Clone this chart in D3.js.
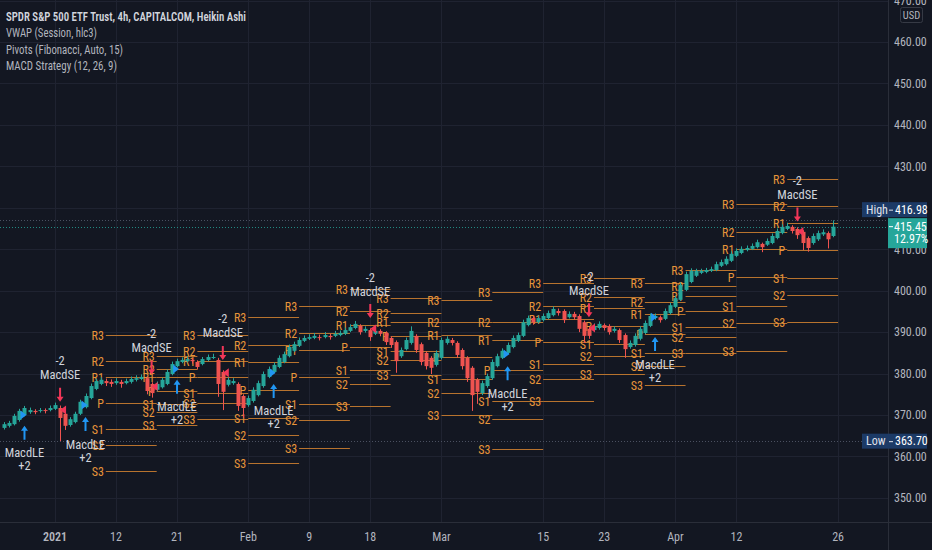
<!DOCTYPE html>
<html><head><meta charset="utf-8">
<script src="https://cdn.jsdelivr.net/npm/d3@7/dist/d3.min.js"></script>
<style>
html,body{margin:0;padding:0;background:#131722;overflow:hidden;}
svg{display:block;}
</style></head><body>
<svg id="chart" width="932" height="550"></svg>
<script>
// ---------- DATA ----------
const haOpen = [366.9,367.4,367.8,368.8,370.0,370.7,371.0,371.0,371.2,371.2,371.5,371.7,370.3,367.6,368.3,370.3,371.9,374.1,376.3,377.5,
378.2,378.0,377.7,378.0,377.7,378.0,378.5,378.7,378.9,377.5,376.1,376.7,377.5,379.9,381.8,382.8,383.0,383.3,382.8,382.3,
383.3,383.8,383.3,380.4,377.3,377.7,377.5,374.6,372.4,373.4,374.8,377.0,379.2,380.4,381.6,382.8,384.2,385.5,386.7,387.9,
388.4,388.6,388.8,388.8,389.1,389.1,389.3,389.6,390.3,391.0,391.5,390.3,390.5,389.6,390.3,389.8,388.6,387.6,384.2,385.9,
387.4,389.1,387.1,385.0,383.8,382.1,383.8,387.4,388.1,387.4,385.7,383.8,381.4,378.5,375.3,377.0,378.9,381.8,383.8,385.0,
386.4,387.9,389.1,391.7,393.4,392.4,392.9,393.4,394.1,395.1,395.1,393.6,394.4,393.9,392.4,390.8,390.5,391.0,391.7,391.5,
390.3,390.5,389.3,386.4,386.9,388.4,389.8,391.5,393.4,393.6,393.2,394.6,396.1,397.8,400.2,402.1,403.6,404.3,404.5,404.8,
405.0,406.0,406.4,407.2,408.4,409.1,409.8,410.1,410.5,411.3,411.1,411.5,412.7,413.9,414.9,415.4,414.9,414.2,412.7,411.5,
412.4,413.6,413.9,413.2];
const haClose = [367.8,368.1,369.8,371.0,371.7,371.2,370.7,371.2,371.0,371.7,372.4,369.3,367.4,369.0,370.3,373.2,374.6,377.0,378.2,378.5,
377.7,377.5,378.2,377.5,378.2,378.7,378.9,379.2,375.8,375.3,377.5,378.5,380.4,382.3,383.0,383.3,383.5,383.0,381.6,383.5,
384.0,384.0,377.5,375.6,378.5,378.2,372.2,371.7,374.1,376.1,377.7,379.9,381.1,382.1,383.8,384.7,386.4,387.1,388.1,388.6,
388.8,389.1,388.6,389.3,388.8,389.6,389.8,390.5,391.2,392.0,390.0,390.8,388.8,390.3,389.6,387.6,386.9,383.0,385.7,388.1,
390.3,385.7,382.8,381.8,381.4,385.0,388.1,388.4,387.4,384.5,381.8,378.9,374.8,375.6,377.7,379.4,382.8,384.2,385.5,386.9,
388.6,389.3,392.4,393.4,392.4,393.4,393.9,394.6,395.6,394.6,392.9,394.4,393.6,390.8,389.1,389.1,391.5,392.0,391.0,390.0,
390.8,388.1,385.9,387.4,389.1,390.8,392.2,393.9,393.9,392.9,395.1,396.5,398.2,401.4,404.0,404.8,404.8,404.8,405.0,405.2,
406.4,406.9,407.7,408.9,409.6,410.1,410.3,410.8,411.7,410.5,412.0,413.2,414.4,415.4,415.6,414.4,413.4,411.5,410.3,413.2,
413.9,414.1,412.4,415.45];
const haHigh = [368.3,368.6,370.3,371.5,372.2,371.8,371.4,371.7,371.6,372.3,373.0,372.3,370.6,369.5,370.8,373.7,375.2,377.6,378.8,379.1,
378.8,378.6,378.9,378.5,378.8,379.3,379.6,379.8,379.3,377.9,378.1,379.0,381.0,382.9,383.6,383.9,384.1,383.7,383.2,384.0,
384.6,384.8,383.8,380.8,379.1,378.9,377.9,375.0,374.7,376.7,378.3,380.5,381.7,382.7,384.4,385.3,387.0,387.7,388.7,389.2,
389.5,389.8,389.4,390.0,389.6,390.3,390.4,391.1,391.9,392.7,391.9,391.4,390.9,390.9,390.7,390.2,389.0,388.0,386.3,388.7,
391.4,389.5,387.5,385.4,384.2,385.6,388.7,389.0,388.6,387.8,386.1,384.2,381.8,378.9,378.3,380.0,383.4,384.8,386.1,387.5,
389.2,389.9,393.0,394.0,393.9,394.0,394.5,395.2,396.2,395.7,395.5,395.0,394.9,394.3,392.8,391.2,392.1,392.6,392.1,391.9,
391.4,390.9,389.7,388.0,389.7,391.4,392.8,394.5,394.5,394.0,395.7,397.1,398.8,402.0,404.6,405.4,405.3,405.3,405.5,405.8,
407.0,407.5,408.3,409.5,410.2,410.7,410.9,411.4,412.3,411.6,412.6,413.8,415.0,416.0,416.4,415.8,415.3,414.6,413.1,413.8,
414.5,414.8,414.3,416.98];
const haLow = [366.5,367.0,367.5,368.4,369.7,370.3,370.2,370.6,370.4,370.9,371.2,363.7,366.4,367.2,368.0,370.0,371.6,373.8,376.0,377.2,
377.0,376.8,377.3,376.6,377.4,377.6,378.1,378.4,375.0,374.2,375.7,376.4,377.2,379.6,381.5,382.5,382.7,382.4,381.0,382.0,
383.0,383.5,374.4,371.2,376.9,377.3,371.0,369.3,372.0,373.0,374.5,376.6,378.9,380.1,381.3,382.5,383.9,385.2,386.4,387.6,
388.1,388.3,388.0,388.5,388.2,388.8,389.0,389.3,390.0,390.7,389.4,389.9,387.9,389.3,389.0,386.9,386.2,380.2,383.8,385.6,
387.0,385.0,382.0,381.0,379.9,381.7,383.4,387.0,386.8,383.8,381.0,378.0,371.0,372.7,374.8,376.6,378.5,381.5,383.5,384.7,
386.1,387.6,388.8,391.4,391.8,392.1,392.6,393.1,393.8,394.0,392.2,393.3,393.0,390.0,387.4,388.4,390.1,390.6,390.4,389.4,
389.9,387.4,383.8,386.0,386.5,388.0,389.5,391.2,393.0,392.3,392.9,394.3,395.8,397.5,399.9,401.8,403.3,404.0,404.2,404.5,
404.7,405.7,406.1,406.9,408.1,408.8,409.5,409.8,410.2,409.3,410.8,411.2,412.4,413.6,414.6,413.8,412.5,409.8,409.4,411.1,
412.0,413.2,410.2,412.9];

const timeTickLabels = ["2021","12","21","Feb","9","18","Mar","15","23","Apr","12","26"];
const timeTickBars   = [10,22,34,48,60,72,86,106,118,132,144,164];
const priceTicks = [350,360,370,380,390,400,410,420,430,440,450,460,470];

// weekly Fibonacci pivots
const weekStartBar = [20,30,38,48,58,68,76,86,96,106,116,126,134,144,154];
const weekEndBar   = [30,38,48,58,68,76,86,96,106,116,126,134,144,154,164];
const pivotR3 = [389.3,384.2,389.3,393.6,396.3,400.4,398.2,397.8,399.7,401.9,403.1,401.9,405.0,420.9,427.0];
const pivotR2 = [383.1,381.0,385.5,386.9,389.7,395.0,394.7,392.5,392.5,396.4,398.6,397.2,401.2,414.1,420.4];
const pivotR1 = [379.2,379.1,383.1,382.7,385.7,391.7,392.5,389.2,388.0,393.1,395.9,394.3,398.8,410.0,416.3];
const pivotP  = [372.9,375.9,379.2,376.0,379.2,386.3,389.0,383.9,380.8,387.6,391.5,389.6,395.0,403.2,409.7];
const pivotS1 = [366.6,372.7,375.3,369.3,372.7,380.9,385.4,378.6,373.5,382.2,387.1,384.9,391.2,396.4,403.1];
const pivotS2 = [362.8,370.8,372.9,365.1,368.7,377.6,383.2,375.3,369.0,378.8,384.3,381.9,388.8,392.2,399.0];
const pivotS3 = [356.5,367.6,369.1,358.4,362.1,372.2,379.7,370.0,361.8,373.4,379.9,377.3,385.0,385.5,392.5];
const pivotNames = ["R3","R2","R1","P","S1","S2","S3"];

// MACD strategy signals
const longBars = [4,16,34,53,99,128];
const longArrowPrice = [367.4,369.5,378.5,377.5,381.8,388.8];
const longMarkPrice  = [370.0,372.4,381.1,380.2,384.7,393.6];
const shortBars = [11,29,43,72,115,156];
const shortArrowPrice = [373.2,379.8,383.3,393.4,393.6,416.7];
const shortMarkPrice  = [371.2,376.9,380.2,390.8,391.0,414.3];

const legendLines = ["SPDR S&P 500 ETF Trust, 4h, CAPITALCOM, Heikin Ashi","VWAP (Session, hlc3)","Pivots (Fibonacci, Auto, 15)","MACD Strategy (12, 26, 9)"];
const legendWidths = [240, 91, 117, 111];
const lastPrice = 415.45, lastChange = "12.97%", highPrice = 416.98, lowPrice = 363.70;

// ---------- DRAW ----------
const W = 932, H = 550, plotR = 888, plotB = 522;
const FONT = "'Liberation Sans Narrow','Arial Narrow','Roboto Condensed','Liberation Sans',sans-serif";
const svg = d3.select("#chart");
svg.append("rect").attr("width",W).attr("height",H).attr("fill","#131722");

const x = d3.scaleLinear().domain([10,164]).range([55,838.1]);
const y = d3.scaleLinear().domain([350,460]).range([497.95,42]);

const defs = svg.append("defs");
defs.append("clipPath").attr("id","plotclip").append("rect").attr("x",0).attr("y",0).attr("width",plotR).attr("height",plotB);

const plot = svg.append("g").attr("clip-path","url(#plotclip)");

// grid
plot.append("g").selectAll("line").data(priceTicks).join("line")
  .attr("x1",0).attr("x2",plotR).attr("y1",d=>Math.round(y(d))+0.5).attr("y2",d=>Math.round(y(d))+0.5)
  .attr("stroke","#1f2331").attr("stroke-width",1);
plot.append("g").selectAll("line").data(timeTickBars).join("line")
  .attr("y1",0).attr("y2",plotB).attr("x1",d=>Math.round(x(d))+0.5).attr("x2",d=>Math.round(x(d))+0.5)
  .attr("stroke","#1f2331").attr("stroke-width",1);

// high / low / last dotted lines
[[highPrice,"#4a5060"],[lowPrice,"#4a5060"]].forEach(([p,c])=>{
  plot.append("line").attr("x1",0).attr("x2",plotR).attr("y1",Math.round(y(p))+0.5).attr("y2",Math.round(y(p))+0.5)
    .attr("stroke",c).attr("stroke-dasharray","1,2");
});
plot.append("line").attr("x1",0).attr("x2",plotR).attr("y1",Math.round(y(lastPrice))+0.5).attr("y2",Math.round(y(lastPrice))+0.5)
  .attr("stroke","#26a69a").attr("stroke-opacity",0.8).attr("stroke-dasharray","1,2");

// pivots
const pivotArrays = [pivotR3,pivotR2,pivotR1,pivotP,pivotS1,pivotS2,pivotS3];
const pivG = plot.append("g");
weekStartBar.forEach((sb,w)=>{
  pivotArrays.forEach((arr,k)=>{
    const yy = Math.round(y(arr[w]))+0.5;
    pivG.append("line").attr("x1",x(sb)).attr("x2",x(weekEndBar[w])).attr("y1",yy).attr("y2",yy)
      .attr("stroke","#b8732e").attr("stroke-width",1);
    pivG.append("text").attr("x",x(sb)-2).attr("y",yy).attr("text-anchor","end").attr("dominant-baseline","central")
      .attr("font-family",FONT).attr("font-size",12).attr("fill","#e8953a").text(pivotNames[k]);
  });
});

// candles
const bars = d3.range(haOpen.length);
const cg = plot.append("g");
bars.forEach(i=>{
  const up = haClose[i] >= haOpen[i];
  const col = up ? "#26a69a" : "#ef5350";
  const cx = Math.round(x(i)) + 0.5;
  cg.append("line").attr("x1",cx).attr("x2",cx).attr("y1",y(haHigh[i])).attr("y2",y(haLow[i])).attr("stroke",col).attr("stroke-width",1);
  const top = y(Math.max(haOpen[i],haClose[i])), bot = y(Math.min(haOpen[i],haClose[i]));
  cg.append("rect").attr("x",cx-2).attr("width",4).attr("y",top).attr("height",Math.max(1,bot-top)).attr("fill",col);
});

// signal markers
const sg = plot.append("g");
const BLUE = "#2196f3", RED = "#f23658";
longBars.forEach((b,k)=>{
  const cx = x(b), ty = y(longArrowPrice[k]), my = y(longMarkPrice[k]);
  sg.append("path").attr("d",`M${cx-4},${my-4.5}L${cx+2},${my}L${cx-4},${my+4.5}Z`).attr("fill",BLUE);
  sg.append("path").attr("d",`M${cx},${ty}L${cx+3.5},${ty+5}L${cx+1},${ty+5}L${cx+1},${ty+14}L${cx-1},${ty+14}L${cx-1},${ty+5}L${cx-3.5},${ty+5}Z`).attr("fill",BLUE);
  sg.append("text").attr("x",cx).attr("y",ty+27).attr("text-anchor","middle").attr("dominant-baseline","central")
    .attr("font-family",FONT).attr("font-size",12.5).attr("fill","#d1d4dc").text("MacdLE");
  sg.append("text").attr("x",cx).attr("y",ty+40).attr("text-anchor","middle").attr("dominant-baseline","central")
    .attr("font-family",FONT).attr("font-size",12.5).attr("fill","#d1d4dc").text("+2");
});
shortBars.forEach((b,k)=>{
  const cx = x(b), ty = y(shortArrowPrice[k]), my = y(shortMarkPrice[k]);
  sg.append("path").attr("d",`M${cx+6},${my-4.5}L${cx},${my}L${cx+6},${my+4.5}Z`).attr("fill",RED);
  sg.append("path").attr("d",`M${cx},${ty}L${cx+3.5},${ty-5}L${cx+1},${ty-5}L${cx+1},${ty-14}L${cx-1},${ty-14}L${cx-1},${ty-5}L${cx-3.5},${ty-5}Z`).attr("fill",RED);
  sg.append("text").attr("x",cx).attr("y",ty-27).attr("text-anchor","middle").attr("dominant-baseline","central")
    .attr("font-family",FONT).attr("font-size",12.5).attr("fill","#d1d4dc").text("MacdSE");
  sg.append("text").attr("x",cx).attr("y",ty-41).attr("text-anchor","middle").attr("dominant-baseline","central")
    .attr("font-family",FONT).attr("font-size",12.5).attr("fill","#d1d4dc").text("-2");
});

// axes separators
svg.append("line").attr("x1",plotR+0.5).attr("x2",plotR+0.5).attr("y1",0).attr("y2",H).attr("stroke","#2a2e39");
svg.append("line").attr("x1",0).attr("x2",W).attr("y1",plotB+0.5).attr("y2",plotB+0.5).attr("stroke","#2a2e39");

// right price axis
const yAxis = d3.axisRight(y).tickValues(priceTicks).tickFormat(d3.format(".2f")).tickSize(0).tickPadding(6);
const ya = svg.append("g").attr("transform",`translate(${plotR},0)`).call(yAxis);
ya.select(".domain").remove();
ya.selectAll("text").attr("font-family",FONT).attr("font-size",12).attr("fill","#b2b5be");

// bottom time axis
const tg = svg.append("g");
timeTickBars.forEach((b,i)=>{
  tg.append("text").attr("x",x(b)).attr("y",537).attr("text-anchor","middle").attr("dominant-baseline","central")
    .attr("font-family",FONT).attr("font-size",12).attr("fill","#b2b5be")
    .attr("font-weight", timeTickLabels[i]==="2021" ? 600 : 400).text(timeTickLabels[i]);
});

// USD box
svg.append("rect").attr("x",900.5).attr("y",7.5).attr("width",22).attr("height",15).attr("rx",2)
  .attr("fill","#131722").attr("stroke","#363a45");
svg.append("text").attr("x",911.5).attr("y",15).attr("text-anchor","middle").attr("dominant-baseline","central")
  .attr("font-family",FONT).attr("font-size",10.5).attr("fill","#b2b5be").text("USD");

// last price box
const lpY = y(lastPrice);
svg.append("rect").attr("x",888).attr("y",lpY-8.5).attr("width",39).attr("height",30).attr("fill","#26a69a");
svg.append("line").attr("x1",889).attr("x2",893).attr("y1",lpY).attr("y2",lpY).attr("stroke","#fff");
svg.append("text").attr("x",894).attr("y",lpY).attr("dominant-baseline","central").attr("font-family",FONT)
  .attr("font-size",12).attr("fill","#ffffff").text(d3.format(".2f")(lastPrice));
svg.append("text").attr("x",894).attr("y",lpY+12).attr("dominant-baseline","central").attr("font-family",FONT)
  .attr("font-size",12).attr("fill","#ffffff").text(lastChange);

// high / low labels
function hlLabel(name, price, cy){
  svg.append("rect").attr("x",862).attr("y",cy-7.5).attr("width",65).attr("height",15).attr("fill","#1c3a66");
  svg.append("text").attr("x",866).attr("y",cy).attr("dominant-baseline","central").attr("font-family",FONT)
    .attr("font-size",12).attr("fill","#e0e3eb").text(name);
  svg.append("line").attr("x1",889).attr("x2",893).attr("y1",cy+0.5).attr("y2",cy+0.5).attr("stroke","#e0e3eb");
  svg.append("text").attr("x",895).attr("y",cy).attr("dominant-baseline","central").attr("font-family",FONT)
    .attr("font-size",12).attr("fill","#ffffff").text(d3.format(".2f")(price));
}
hlLabel("High", highPrice, Math.min(y(highPrice), lpY-8.5-8.5));
hlLabel("Low", lowPrice, y(lowPrice));

// legend
legendLines.forEach((t,i)=>{
  svg.append("text").attr("x",6).attr("y",16+i*16.3).attr("dominant-baseline","central")
    .attr("font-family",FONT).attr("font-size",13.5)
    .attr("font-weight", i===0 ? 600 : 400)
    .attr("textLength", legendWidths[i]).attr("lengthAdjust","spacingAndGlyphs")
    .attr("fill", i===0 ? "#d1d4dc" : "#b2b5be").text(t);
});
</script>
</body></html>
